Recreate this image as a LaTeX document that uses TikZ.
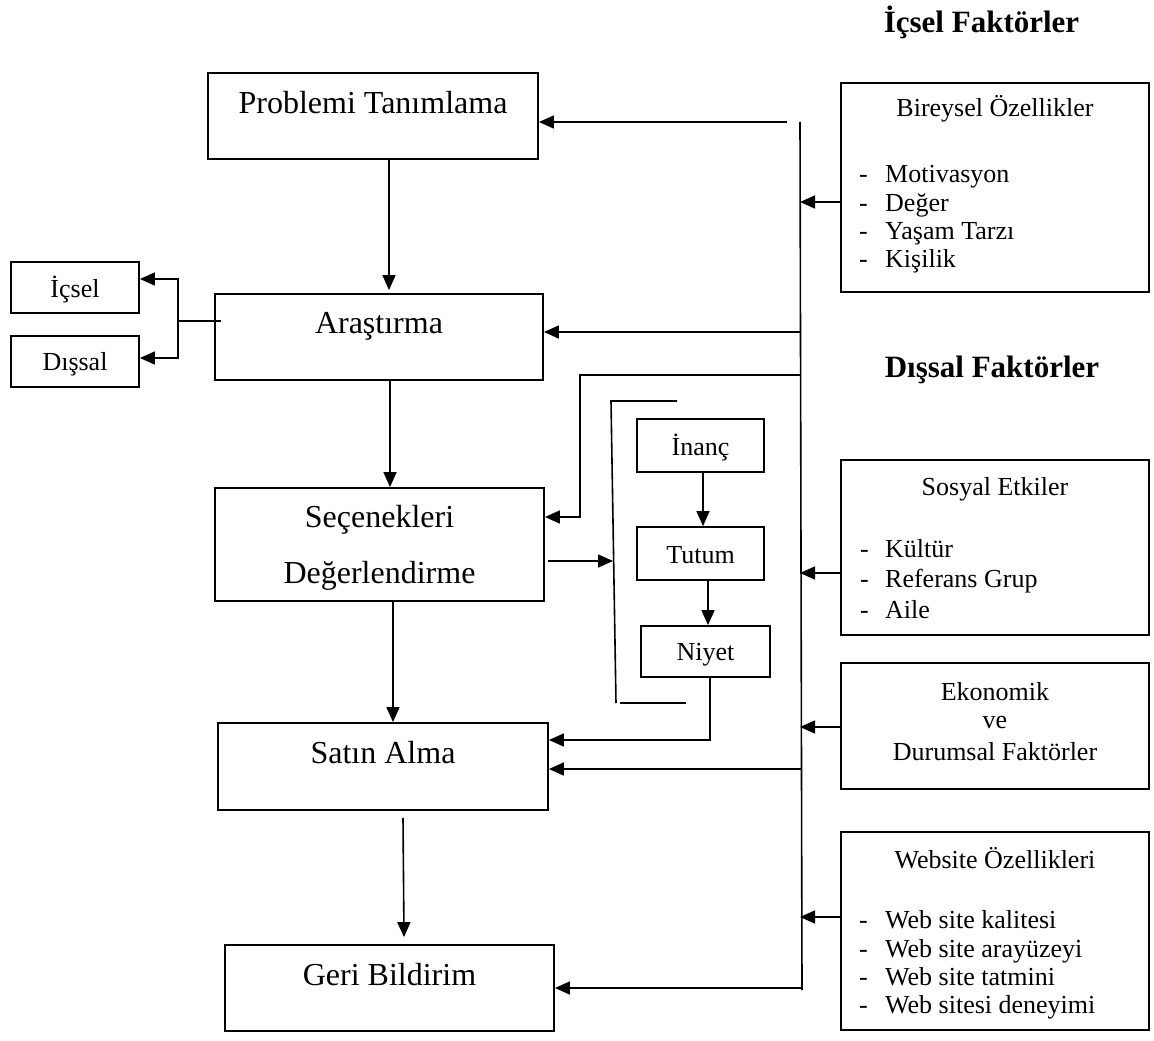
\documentclass[tikz,border=0pt]{standalone}
\usepackage{fontspec}
\setmainfont{Liberation Serif}
\usetikzlibrary{arrows.meta,fit}
\begin{document}
\begin{tikzpicture}[x=1pt,y=-1pt,
 box/.style={draw,line width=1.8pt,inner sep=0pt},
 arr/.style={line width=1.6pt,-{Triangle[length=15pt,width=13pt]}},
 ln/.style={line width=1.6pt},
 big/.style={font=\fontsize{32}{38}\selectfont,anchor=base,inner sep=0pt},
 mid/.style={font=\fontsize{26}{30}\selectfont,anchor=base,inner sep=0pt},
 lst/.style={font=\fontsize{26}{30}\selectfont,anchor=base west,inner sep=0pt},
 head/.style={font=\fontsize{31}{36}\selectfont\bfseries,anchor=base,inner sep=0pt}]
\useasboundingbox[fill=white] (0,0) rectangle (1154,1041);

% boxes
\node[box, fit={(208,73) (538,159)}] (p) {};
\node[box, fit={(215,294) (543,380)}] (a) {};
\node[box, fit={(11,262) (139,313)}] (ic) {};
\node[box, fit={(11,336) (139,387)}] (dis) {};
\node[box, fit={(215,488) (544,601)}] (s) {};
\node[box, fit={(218,723) (548,810)}] (sa) {};
\node[box, fit={(225,945) (554,1031)}] (g) {};
\node[box, fit={(637,419) (764,472)}] (inanc) {};
\node[box, fit={(637,527) (764,580)}] (tutum) {};
\node[box, fit={(641,626) (770,677)}] (niyet) {};
\node[box, fit={(841,83) (1149,292)}] (bir) {};
\node[box, fit={(841,460) (1149,635)}] (sos) {};
\node[box, fit={(841,663) (1149,789)}] (eko) {};
\node[box, fit={(841,832) (1149,1030)}] (web) {};

% texts
\node[big] (pt) at (373,113) {Problemi Tanımlama};
\node[big] (at) at (379,333) {Araştırma};
\node[big] (st1) at (379.5,527) {Seçenekleri};
\node[big] (st2) at (379.5,583) {Değerlendirme};
\node[big] (sat) at (383,763) {Satın Alma};
\node[big] (gt) at (389.5,985) {Geri Bildirim};
\node[mid] (ict) at (75,297) {İçsel};
\node[mid] (dit) at (75,370) {Dışsal};
\node[mid] (int) at (700.5,455) {İnanç};
\node[mid] (tut) at (700.5,563) {Tutum};
\node[mid] (nit) at (705.5,660) {Niyet};

\node[head] (h1) at (981.5,33) {İçsel Faktörler};
\node[head] (h2) at (992,377) {Dışsal Faktörler};

\node[mid] (bt) at (995,117) {Bireysel Özellikler};
\node[lst] (b1) at (859,182) {\makebox[26pt][l]{-}Motivasyon};
\node[lst] (b2) at (859,211) {\makebox[26pt][l]{-}Değer};
\node[lst] (b3) at (859,239) {\makebox[26pt][l]{-}Yaşam Tarzı};
\node[lst] (b4) at (859,267) {\makebox[26pt][l]{-}Kişilik};

\node[mid] (sot) at (995,495) {Sosyal Etkiler};
\node[lst] (s1) at (860,557) {\makebox[25pt][l]{-}Kültür};
\node[lst] (s2) at (860,587) {\makebox[25pt][l]{-}Referans Grup};
\node[lst] (s3) at (860,618) {\makebox[25pt][l]{-}Aile};

\node[mid] (et1) at (995,700) {Ekonomik};
\node[mid] (et2) at (995,728) {ve};
\node[mid] (et3) at (995,760) {Durumsal Faktörler};

\node[mid] (wt) at (995,868) {Website Özellikleri};
\node[lst] (w1) at (859,928) {\makebox[26pt][l]{-}Web site kalitesi};
\node[lst] (w2) at (859,957) {\makebox[26pt][l]{-}Web site arayüzeyi};
\node[lst] (w3) at (859,985) {\makebox[26pt][l]{-}Web site tatmini};
\node[lst] (w4) at (859,1013) {\makebox[26pt][l]{-}Web sitesi deneyimi};

% main vertical line
\coordinate (vt) at (800,122);
\coordinate (vb) at (802,990);
\draw[ln] (vt) -- (vb);

% main flow
\draw[arr] ([xshift=16pt]p.south) -- ([xshift=10pt,yshift=3pt]a.north);
\draw[arr] ([xshift=11pt]a.south) -- ([xshift=10.5pt]s.north);
\draw[arr] ([xshift=13.5pt]s.south) -- ([xshift=10pt]sa.north);
\draw[arr] ([xshift=20pt,yshift=-7pt]sa.south) -- ([xshift=14.5pt,yshift=7pt]g.north);

% from vertical line to process boxes
\coordinate (e1) at (787,122);
\draw[arr] (e1) -- (e1 -| p.east);
\coordinate (e2) at (800,332);
\draw[arr] (e2) -- (e2 -| a.east);
\coordinate (e3) at (800,375);
\coordinate (k3) at (580,517);
\draw[arr] (e3) -- (e3 -| k3) -- (k3) -- (k3 -| s.east);
\coordinate (e5) at (801,769);
\draw[arr] (e5) -- (e5 -| sa.east);
\coordinate (e6) at (802,988);
\draw[arr] (e6) -- (e6 -| g.east);

% from factor boxes to vertical line
\coordinate (r1) at (0,202);
\draw[arr] (bir.west |- r1) -- (vt |- r1);
\coordinate (r2) at (0,573);
\draw[arr] (sos.west |- r2) -- (vt |- r2);
\coordinate (r3) at (0,727);
\draw[arr] (eko.west |- r3) -- (vt |- r3);
\coordinate (r4) at (0,917);
\draw[arr] (web.west |- r4) -- (vt |- r4);

% Araştırma to İçsel / Dışsal
\coordinate (j0) at (221,321);
\coordinate (j) at (178,321);
\coordinate (j1) at (178,279);
\coordinate (j2) at (177,358);
\draw[ln] (j0) -- (j);
\draw[arr] (j) -- (j1) -- (j1 -| ic.east);
\draw[arr] (j) -- (j |- j2) -- (j2 -| dis.east);

% bracket
\coordinate (bk1) at (677,401);
\coordinate (bk2) at (611,401);
\coordinate (bk3) at (616,703);
\coordinate (bk4) at (620,703);
\coordinate (bk5) at (686,703);
\draw[ln] (bk1) -- (bk2) -- (bk3);
\draw[ln] (bk4) -- (bk5);
\coordinate (bk) at (613,561);
\draw[arr] ([xshift=3pt]s.east |- bk) -- (bk);

% inner chain
\draw[arr] ([xshift=2.5pt]inanc.south) -- ([xshift=2.5pt]tutum.north);
\draw[arr] ([xshift=7.5pt]tutum.south) -- ([xshift=2.5pt]niyet.north);
\coordinate (k4) at (710,740);
\draw[arr] (niyet.south -| k4) -- (k4) -- (k4 -| sa.east);
\end{tikzpicture}
\end{document}
